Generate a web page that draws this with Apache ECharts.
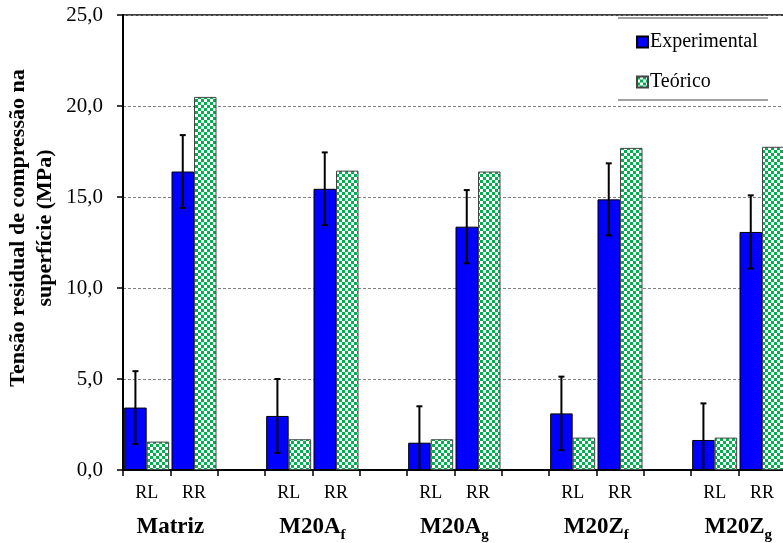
<!DOCTYPE html>
<html>
<head>
<meta charset="utf-8">
<title>Tensão residual de compressão na superfície</title>
<script src="https://cdn.jsdelivr.net/npm/echarts@6/dist/echarts.min.js"></script>
<style>
  html, body { margin: 0; padding: 0; background: #fff; overflow: hidden; width: 783px; height: 543px; }
  /* plot area runs past the right page edge */
  #chart { width: 850px; height: 543px; }
</style>
</head>
<body>
<div id="chart"></div>
<script>
// Composition groups (name + subscript) and the two specimen types per group
const groupNames = ['Matriz', 'M20A', 'M20A', 'M20Z', 'M20Z'];
const groupSubs = ['', 'f', 'g', 'f', 'g'];
const specimenTypes = ['RL', 'RR'];

// Surface compressive residual stress, MPa
const experimentalRL = [3.43, 2.97, 1.50, 3.11, 1.65];
const experimentalRR = [16.4, 15.45, 13.37, 14.87, 13.08];
const theoreticalRL = [1.56, 1.69, 1.69, 1.78, 1.78];
const theoreticalRR = [20.5, 16.45, 16.4, 17.7, 17.76];
// Standard deviation of the experimental values
const errorRL = [2.0, 2.03, 2.0, 2.02, 2.01];
const errorRR = [2.0, 2.0, 2.01, 1.98, 2.01];

const seriesNames = ['Experimental', 'Teórico'];

// Category slots: RL, RR and an empty spacer after each group
const categories = [];
const expData = [];
const teoData = [];
const errData = [];
groupNames.forEach((g, i) => {
  categories.push(specimenTypes[0], specimenTypes[1], '');
  expData.push(experimentalRL[i], experimentalRR[i], '-');
  teoData.push(theoreticalRL[i], theoreticalRR[i], '-');
  const base = i * 3;
  errData.push([base, Math.max(0, experimentalRL[i] - errorRL[i]), experimentalRL[i] + errorRL[i]]);
  errData.push([base + 1, Math.max(0, experimentalRR[i] - errorRR[i]), experimentalRR[i] + errorRR[i]]);
});

const SLOT_COUNT = categories.length;
const BAR_W = 22.5;
const SERIF = '"Liberation Serif", "Times New Roman", serif';

// Green / white checker fill for the theoretical bars
function checkerPattern() {
  const c = document.createElement('canvas');
  c.width = 6; c.height = 6;
  const ctx = c.getContext('2d');
  ctx.fillStyle = '#ffffff';
  ctx.fillRect(0, 0, 6, 6);
  ctx.fillStyle = '#00b050';
  ctx.fillRect(0, 0, 3, 3);
  ctx.fillRect(3, 3, 3, 3);
  return { image: c, repeat: 'repeat' };
}

const chart = echarts.init(document.getElementById('chart'), null, { renderer: 'canvas' });

const option = {
  backgroundColor: '#ffffff',
  animation: false,
  grid: {
    left: 123, top: 15, width: 710, height: 455,
    show: true, borderColor: '#000', borderWidth: 1.5, backgroundColor: 'transparent'
  },
  legend: {
    data: seriesNames,
    orient: 'vertical',
    left: 631, top: 27,
    itemWidth: 11, itemHeight: 11, itemGap: 20,
    icon: 'rect',
    textStyle: { fontFamily: SERIF, fontSize: 20, color: '#000', padding: [0, 0, 0, -3] }
  },
  xAxis: [
    {
      type: 'category',
      data: categories,
      boundaryGap: true,
      axisLine: { lineStyle: { color: '#000', width: 2 } },
      axisTick: { show: true, interval: 0, length: 6, lineStyle: { color: '#000', width: 1.5 } },
      axisLabel: { interval: 0, margin: 14, fontFamily: SERIF, fontSize: 18, color: '#000' },
      splitLine: { show: false }
    },
    {
      // positions 1, 4, 7 ... sit between RL and RR of each group
      type: 'value',
      min: 0, max: SLOT_COUNT, interval: 1,
      position: 'bottom',
      axisLine: { show: false },
      axisTick: { show: false },
      splitLine: { show: false },
      axisLabel: {
        margin: 46,
        showMinLabel: true, showMaxLabel: true,
        formatter: function (v) {
          if (v % 3 !== 1) return '';
          const i = (v - 1) / 3;
          if (i >= groupNames.length) return '';
          return groupSubs[i] ? '{b|' + groupNames[i] + '}{s|' + groupSubs[i] + '}' : '{b|' + groupNames[i] + '}';
        },
        rich: {
          b: { fontFamily: SERIF, fontSize: 23, fontWeight: 'bold', color: '#000', lineHeight: 23, verticalAlign: 'top' },
          s: { fontFamily: SERIF, fontSize: 15, fontWeight: 'bold', color: '#000', lineHeight: 15, verticalAlign: 'top', padding: [12, 0, 0, 0] }
        }
      }
    }
  ],
  yAxis: {
    type: 'value',
    min: 0, max: 25, interval: 5,
    axisLine: { show: true, lineStyle: { color: '#000', width: 2 } },
    axisTick: { show: true, length: 6, lineStyle: { color: '#000', width: 1.5 } },
    axisLabel: {
      margin: 20, fontFamily: SERIF, fontSize: 21, color: '#000',
      formatter: v => v.toFixed(1).replace('.', ',')
    },
    splitLine: { show: true, lineStyle: { color: '#808080', width: 1, type: [3, 2] } }
  },
  graphic: [
    {
      type: 'text', x: 32, y: 228, rotation: Math.PI / 2,
      style: {
        text: 'Tensão residual de compressão na\nsuperfície (MPa)',
        font: 'bold 22px ' + SERIF, fill: '#000',
        align: 'center', verticalAlign: 'middle', lineHeight: 27
      }
    },
    { type: 'line', shape: { x1: 618, y1: 18, x2: 768, y2: 18 }, style: { stroke: '#808080', lineWidth: 1.5 } },
    { type: 'line', shape: { x1: 618, y1: 100, x2: 768, y2: 100 }, style: { stroke: '#808080', lineWidth: 1.5 } }
  ],
  series: [
    {
      name: seriesNames[0],
      type: 'bar',
      data: expData,
      barWidth: BAR_W,
      barGap: '0%',
      itemStyle: { color: '#0000ff', borderColor: '#000', borderWidth: 1 },
      z: 2
    },
    {
      name: seriesNames[1],
      type: 'bar',
      data: teoData,
      barWidth: BAR_W,
      barGap: '0%',
      itemStyle: { color: checkerPattern(), borderColor: '#444', borderWidth: 1 },
      z: 2
    },
    {
      name: 'desvio',
      type: 'custom',
      data: errData,
      encode: { x: 0, y: [1, 2] },
      z: 5,
      renderItem: function (params, api) {
        const idx = api.value(0);
        const top = api.coord([idx, api.value(2)]);
        const bottom = api.coord([idx, api.value(1)]);
        const x = top[0] - BAR_W / 2;
        const cap = 3;
        const children = [
          { type: 'line', shape: { x1: x, y1: top[1], x2: x, y2: bottom[1] }, style: { stroke: '#000', lineWidth: 2 } },
          { type: 'line', shape: { x1: x - cap, y1: top[1], x2: x + cap, y2: top[1] }, style: { stroke: '#000', lineWidth: 2 } }
        ];
        if (api.value(1) > 0) {
          children.push({ type: 'line', shape: { x1: x - cap, y1: bottom[1], x2: x + cap, y2: bottom[1] }, style: { stroke: '#000', lineWidth: 2 } });
        }
        return { type: 'group', children: children };
      }
    }
  ]
};

chart.setOption(option);
</script>
</body>
</html>
